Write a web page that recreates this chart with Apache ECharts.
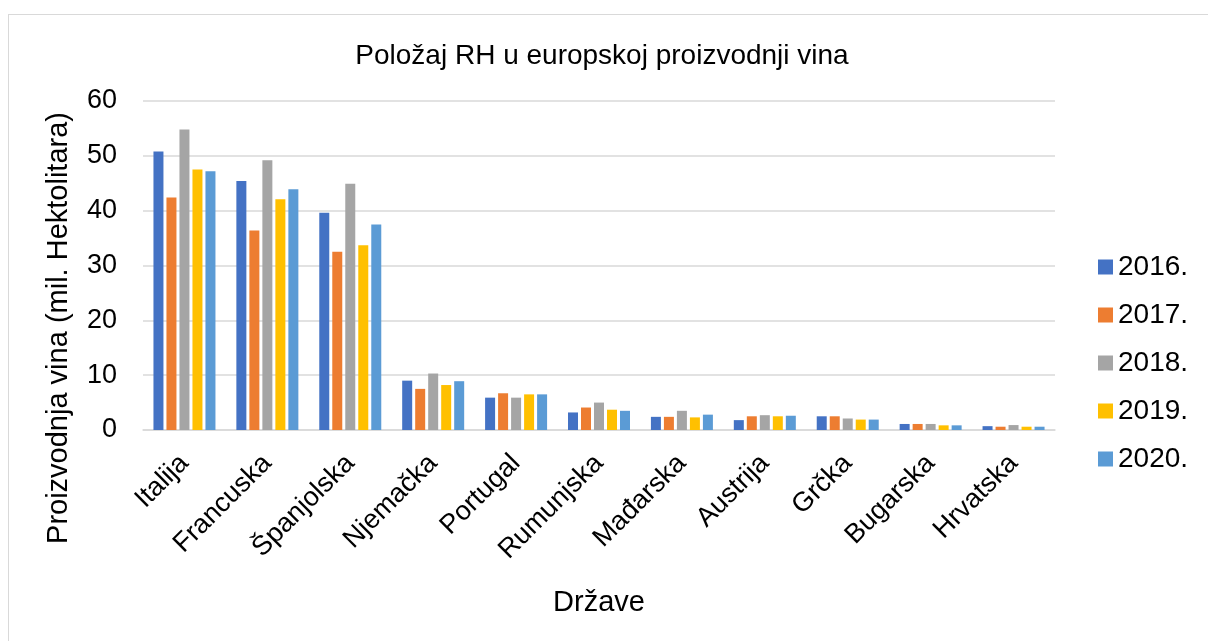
<!DOCTYPE html>
<html>
<head>
<meta charset="utf-8">
<script src="https://cdn.jsdelivr.net/npm/echarts@6/dist/echarts.min.js"></script>
<style>
html, body { margin: 0; padding: 0; background: #fff; }
#frame { position: absolute; left: 8px; top: 14px; width: 1210px; height: 640px; border: 1px solid #d9d9d9; box-sizing: border-box; }
#chart { position: absolute; left: 0; top: 0; width: 1208px; height: 641px; }
</style>
</head>
<body>
<div id="frame"></div>
<div id="chart"></div>
<script>
// podaci
const categories = ['Italija', 'Francuska', 'Španjolska', 'Njemačka', 'Portugal', 'Rumunjska', 'Mađarska', 'Austrija', 'Grčka', 'Bugarska', 'Hrvatska'];
const years = ['2016.', '2017.', '2018.', '2019.', '2020.'];
const v2016 = [50.8, 45.4, 39.6, 9.0, 5.9, 3.2, 2.4, 1.8, 2.5, 1.1, 0.7];
const v2017 = [42.4, 36.4, 32.5, 7.5, 6.7, 4.1, 2.4, 2.5, 2.5, 1.1, 0.6];
const v2018 = [54.8, 49.2, 44.9, 10.3, 5.9, 5.0, 3.5, 2.7, 2.1, 1.1, 0.9];
const v2019 = [47.5, 42.1, 33.7, 8.2, 6.5, 3.7, 2.3, 2.5, 1.9, 0.85, 0.6];
const v2020 = [47.2, 43.9, 37.5, 8.9, 6.5, 3.5, 2.8, 2.6, 1.9, 0.85, 0.6];
const colors = ['#4472C4', '#ED7D31', '#A5A5A5', '#FFC000', '#5B9BD5'];

const allValues = [v2016, v2017, v2018, v2019, v2020];
const font = 'Liberation Sans, Arial, sans-serif';

let myChart = echarts.init(document.getElementById('chart'));
let option = {
    animation: false,
    color: colors,
    title: {
        text: 'Položaj RH u europskoj proizvodnji vina',
        left: 597,
        textAlign: 'center',
        top: 37,
        textStyle: { fontFamily: font, fontSize: 28, fontWeight: 'normal', color: '#000' }
    },
    legend: {
        orient: 'vertical',
        left: 1098,
        top: 253,
        padding: 0,
        itemWidth: 15,
        itemHeight: 15,
        itemGap: 20,
        icon: 'rect',
        textStyle: { fontFamily: font, fontSize: 28, color: '#000', padding: [0, 0, 0, 0] },
        data: years
    },
    // naziv y osi nije centriran na os, pa ide kao zaseban tekst
    graphic: [{
        type: 'text',
        x: 59,
        y: 328,
        rotation: Math.PI / 2,
        style: {
            text: 'Proizvodnja vina (mil. Hektolitara)',
            fontFamily: font,
            fontSize: 29,
            fill: '#000',
            textAlign: 'center',
            textVerticalAlign: 'middle'
        }
    }],
    grid: {
        left: 143,
        right: 153,
        top: 101,
        bottom: 211,
        containLabel: false
    },
    xAxis: {
        type: 'category',
        data: categories,
        name: 'Države',
        nameLocation: 'middle',
        nameGap: 158,
        nameTextStyle: { fontFamily: font, fontSize: 29, color: '#000' },
        axisLine: { lineStyle: { color: '#d9d9d9', width: 1.5 } },
        axisTick: { show: false },
        axisLabel: {
            interval: 0,
            rotate: 45,
            margin: 29,
            fontFamily: font,
            fontSize: 27,
            color: '#000'
        }
    },
    yAxis: {
        type: 'value',
        min: 0,
        max: 60,
        interval: 10,
        axisLine: { show: false },
        axisTick: { show: false },
        axisLabel: { fontFamily: font, fontSize: 27, color: '#000', margin: 26 },
        splitLine: { lineStyle: { color: '#d9d9d9', width: 1.5 } }
    },
    series: years.map(function (y, i) {
        return {
            name: y,
            type: 'bar',
            barWidth: 10,
            barGap: '30%',
            data: allValues[i]
        };
    })
};
myChart.setOption(option);
window.addEventListener('resize', function () {
    myChart.resize();
});
</script>
</body>
</html>
